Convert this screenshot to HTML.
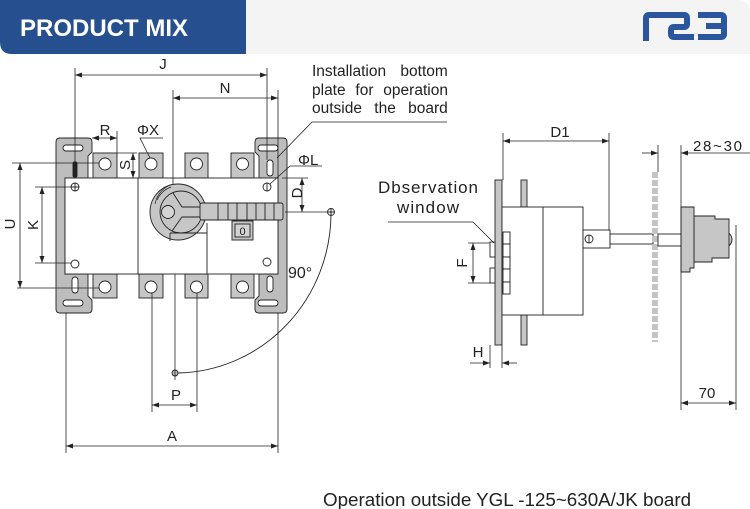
<!DOCTYPE html>
<html><head><meta charset="utf-8"><style>
html,body{margin:0;padding:0;background:#fff;}
svg{display:block;}
text{font-family:"Liberation Sans",Arial,sans-serif;fill:#222;}
</style></head><body>
<svg width="750" height="509" viewBox="0 0 750 509" xmlns="http://www.w3.org/2000/svg">
<defs>
<marker id="ar" markerUnits="userSpaceOnUse" markerWidth="7" markerHeight="5" viewBox="0 0 7 5" refX="7" refY="2.5" orient="auto-start-reverse"><path d="M0,0 L7,2.5 L0,5 z" fill="#222"/></marker>
</defs>
<!-- header -->
<path d="M0,0 H246 V54 H12 Q0,54 0,42 Z" fill="#264f8f"/>
<path d="M246,0 H738 Q750,0 750,12 V54 H246 Z" fill="#f4f4f4"/>
<text x="20" y="36" font-size="24" font-weight="bold" style="fill:#fff">PRODUCT MIX</text>
<g fill="none" stroke="#2a56a0" stroke-width="6" stroke-linejoin="round">
<path d="M646,41 V18 Q646,15 649,15 H684 Q687,15 687,18 V24 Q687,27 684,27 H674 Q671,27 671,30 V34 Q671,37 674,37 H694"/>
<path d="M698,15 H721 Q724,15 724,18 V34 Q724,37 721,37 H698 M706,26 H724"/>
</g>

<g stroke="#222" stroke-width="0.9" fill="none">
<!-- brackets -->
<path d="M60,138 H88 Q92,138 92,142 V152 L88,156 V178 H65 V274 H88 V296 L92,300 V309 Q92,313 88,313 H60 Q56,313 56,309 V142 Q56,138 60,138 Z" fill="#bdbdbd"/>
<path d="M259,138 H283 Q287,138 287,142 V309 Q287,313 283,313 H259 Q255,313 255,309 V300 L259,296 V274 H278 V178 H259 V156 L255,152 V142 Q255,138 259,138 Z" fill="#bdbdbd"/>
<rect x="63" y="145" width="20" height="6" rx="3" fill="#fff"/>
<rect x="63" y="300" width="20" height="6" rx="3" fill="#fff"/>
<rect x="258" y="145" width="20" height="6" rx="3" fill="#fff"/>
<rect x="258" y="300" width="20" height="6" rx="3" fill="#fff"/>
<rect x="73" y="162" width="4" height="15" rx="1.5" fill="#222"/>
<rect x="72" y="277" width="6" height="16" rx="3" fill="#fff"/>
<rect x="267" y="160" width="6" height="16" rx="3" fill="#fff"/>
<rect x="267" y="276" width="6" height="16" rx="3" fill="#fff"/>
<!-- terminals -->
<g fill="#c6c6c6">
<rect x="93" y="153" width="24" height="25"/><rect x="139" y="153" width="24" height="25"/><rect x="185" y="153" width="23" height="25"/><rect x="231" y="153" width="23" height="25"/>
<rect x="93" y="274" width="24" height="24"/><rect x="139" y="274" width="24" height="24"/><rect x="185" y="274" width="23" height="24"/><rect x="231" y="274" width="23" height="24"/>
</g>
<g fill="#fff">
<circle cx="105" cy="164" r="6"/><circle cx="151" cy="164" r="6"/><circle cx="196.5" cy="164" r="6"/><circle cx="242.5" cy="164" r="6"/>
<circle cx="105" cy="287" r="6"/><circle cx="151" cy="287" r="6"/><circle cx="196.5" cy="287" r="6"/><circle cx="242.5" cy="287" r="6"/>
</g>
<!-- body -->
<rect x="65" y="178" width="213" height="96" fill="#fff"/>
<line x1="138" y1="178" x2="138" y2="274"/>
<line x1="207" y1="223" x2="207" y2="274"/>
<circle cx="75" cy="187" r="4" fill="#fff"/><path d="M71,187 H79 M75,183 V191"/>
<circle cx="75" cy="264" r="4" fill="#fff"/>
<circle cx="267" cy="187" r="4" fill="#fff"/><path d="M267,183 V191"/>
<circle cx="267" cy="262" r="4" fill="#fff"/>
<!-- dial -->
<circle cx="178" cy="212" r="28" fill="#c6c6c6"/>
<path d="M170,233 H207 M170,233 V241"/>
<circle cx="181" cy="212" r="21" fill="#c6c6c6"/>
<path d="M157,200 A25,25 0 0 1 171,187" stroke-width="0.7"/>
<path d="M155,204 A27,27 0 0 1 168,186" stroke-width="0.7"/>
<circle cx="168" cy="212" r="6.5" fill="#d4d4d4"/>
<path d="M173,193 L182,207 H202 M172,231 L182,217 H202"/>
<rect x="200" y="203" width="83" height="17" rx="2" fill="#c6c6c6"/>
<path d="M218,203 V220 M228,203 V220 M237,203 V220 M247,203 V220 M256,203 V220 M265,203 V220 M274,203 V220"/>
<rect x="232" y="221" width="21" height="19" fill="#c6c6c6"/>
<rect x="235" y="224" width="15" height="13" fill="#d2d2d2"/>
<circle cx="331" cy="212" r="3.5" fill="#fff"/><path d="M327.5,212 H334.5 M331,208.5 V215.5"/>
<!-- arc -->
<path d="M331,213 A156,160 0 0 1 178,373"/>
<circle cx="175" cy="373" r="3" fill="#bbb"/>

<!-- dimensions left -->
<g stroke-width="0.8">
<line x1="75" y1="68" x2="75" y2="162"/><line x1="267" y1="68" x2="267" y2="160"/>
<line x1="75" y1="75" x2="267" y2="75" marker-start="url(#ar)" marker-end="url(#ar)"/>
<line x1="173" y1="90" x2="173" y2="184"/><line x1="278" y1="90" x2="278" y2="178"/>
<line x1="173" y1="98" x2="278" y2="98" marker-start="url(#ar)" marker-end="url(#ar)"/>
<line x1="92" y1="138" x2="117" y2="138" marker-start="url(#ar)" marker-end="url(#ar)"/>
<line x1="117" y1="131" x2="117" y2="153"/>
<path d="M163,138 H140 L150,158"/>
<line x1="117" y1="153" x2="137" y2="153"/>
<line x1="133" y1="153" x2="133" y2="178" marker-start="url(#ar)" marker-end="url(#ar)"/>
<path d="M322,166 H290 L270,184"/>
<path d="M447,122 H312 L277,158"/>
<line x1="282" y1="178" x2="308" y2="178"/><line x1="285" y1="212" x2="328" y2="212"/>
<line x1="302" y1="178" x2="302" y2="212" marker-start="url(#ar)" marker-end="url(#ar)"/>
<line x1="12" y1="163" x2="99" y2="163"/><line x1="17" y1="288" x2="99" y2="288"/>
<line x1="20" y1="163" x2="20" y2="288" marker-start="url(#ar)" marker-end="url(#ar)"/>
<line x1="35" y1="187" x2="71" y2="187"/><line x1="35" y1="263" x2="71" y2="263"/>
<line x1="42" y1="187" x2="42" y2="263" marker-start="url(#ar)" marker-end="url(#ar)"/>
<line x1="152" y1="293" x2="152" y2="412"/><line x1="197" y1="293" x2="197" y2="412"/>
<line x1="175" y1="274" x2="175" y2="380"/>
<line x1="152" y1="405" x2="197" y2="405" marker-start="url(#ar)" marker-end="url(#ar)"/>
<line x1="66" y1="313" x2="66" y2="453"/><line x1="278" y1="313" x2="278" y2="453"/>
<line x1="66" y1="446" x2="278" y2="446" marker-start="url(#ar)" marker-end="url(#ar)"/>
</g>

<!-- right drawing -->
<rect x="495" y="180" width="7" height="165" fill="#c6c6c6"/>
<rect x="521" y="180" width="6" height="27" fill="#c6c6c6"/>
<rect x="521" y="315" width="6" height="30" fill="#c6c6c6"/>
<rect x="502" y="207" width="81" height="108" fill="#fff"/>
<line x1="543" y1="207" x2="543" y2="315"/>
<rect x="503" y="232" width="7" height="12" fill="#fff"/><rect x="503" y="244" width="7" height="13" fill="#fff"/><rect x="503" y="257" width="7" height="12" fill="#fff"/><rect x="503" y="269" width="7" height="13" fill="#fff"/><rect x="503" y="282" width="7" height="12" fill="#fff"/>
<rect x="490" y="242" width="5" height="15" fill="#fff"/><rect x="490" y="268" width="5" height="15" fill="#fff"/>
<rect x="583" y="230" width="27" height="18" fill="#fff"/>
<circle cx="589" cy="239" r="4" fill="#fff"/><line x1="589" y1="235" x2="589" y2="243"/>
<rect x="610" y="234" width="43" height="10" fill="#fff"/>
<line x1="655" y1="172" x2="655" y2="342" stroke="#c4c4c4" stroke-width="6" stroke-dasharray="6 2"/>
<rect x="658" y="234" width="23" height="12" fill="#fff"/>
<path d="M729,233 Q735,239.5 729,246" fill="#c6c6c6"/>
<path d="M694,216 H715 V219 H729 V258 H712 V262 H694 Z" fill="#c6c6c6"/>
<path d="M681,207 H694 V268 H690 V272 H681 Z" fill="#c6c6c6"/>
<g stroke-width="0.8">
<line x1="503" y1="133" x2="503" y2="180"/><line x1="609" y1="133" x2="609" y2="230"/>
<line x1="503" y1="141" x2="609" y2="141" marker-start="url(#ar)" marker-end="url(#ar)"/>
<line x1="642" y1="153" x2="658" y2="153" marker-end="url(#ar)"/>
<line x1="750" y1="153" x2="681" y2="153" marker-end="url(#ar)"/>
<line x1="658" y1="145" x2="658" y2="172"/>
<line x1="681" y1="145" x2="681" y2="410"/>
<line x1="736" y1="225" x2="736" y2="410"/>
<line x1="681" y1="403" x2="736" y2="403" marker-start="url(#ar)" marker-end="url(#ar)"/>
<path d="M388,222 H473 L494,243"/>
<line x1="468" y1="243" x2="490" y2="243"/><line x1="468" y1="283" x2="490" y2="283"/>
<line x1="473" y1="243" x2="473" y2="283" marker-start="url(#ar)" marker-end="url(#ar)"/>
<line x1="490" y1="345" x2="490" y2="368"/><line x1="502" y1="345" x2="502" y2="368"/>
<line x1="470" y1="363" x2="490" y2="363" marker-end="url(#ar)"/>
<line x1="517" y1="363" x2="502" y2="363" marker-end="url(#ar)"/>
</g>
</g>

<!-- labels -->
<g font-size="15">
<text x="163" y="69" text-anchor="middle">J</text>
<text x="225" y="93" text-anchor="middle">N</text>
<text x="105" y="135" text-anchor="middle">R</text>
<text x="137" y="135">ΦX</text>
<text x="298" y="165">ΦL</text>
<text transform="translate(130,165) rotate(-90)" text-anchor="middle">S</text>
<text transform="translate(302,193) rotate(-90)" text-anchor="middle">D</text>
<text transform="translate(15,224) rotate(-90)" text-anchor="middle">U</text>
<text transform="translate(38,225) rotate(-90)" text-anchor="middle">K</text>
<text x="288" y="278" font-size="16">90°</text>
<text x="176" y="400" text-anchor="middle">P</text>
<text x="172" y="441" text-anchor="middle">A</text>
<text x="242.5" y="235" text-anchor="middle" font-size="11">0</text>
<text x="312" y="76" font-size="15.5" word-spacing="10">Installation bottom</text>
<text x="312" y="95" font-size="15.5" word-spacing="5.5">plate for operation</text>
<text x="312" y="113" font-size="15.5" word-spacing="8">outside the board</text>
<text x="560" y="137" text-anchor="middle">D1</text>
<text x="693" y="151" textLength="49" lengthAdjust="spacing">28~30</text>
<text x="707" y="398" text-anchor="middle">70</text>
<text x="478" y="357" text-anchor="middle">H</text>
<text transform="translate(467,263) rotate(-90)" text-anchor="middle">F</text>
<text x="378" y="193" font-size="17" textLength="100" lengthAdjust="spacing">Dbservation</text>
<text x="397" y="213" font-size="17" textLength="62" lengthAdjust="spacing">window</text>
</g>
<text x="323" y="506" font-size="18.8">Operation outside YGL -125~630A/JK board</text>
</svg>
</body></html>
